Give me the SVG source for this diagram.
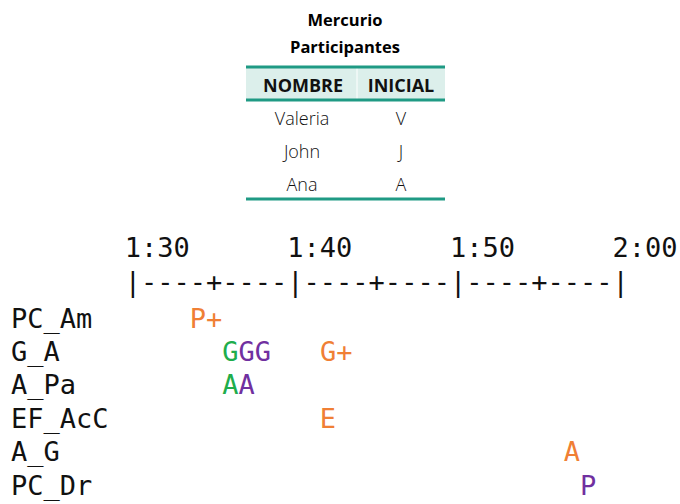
<svg xmlns="http://www.w3.org/2000/svg" width="680" height="504" viewBox="0 0 680 504">
<style>
.t{font-family:"Open Sans","Liberation Sans",sans-serif;fill:#000}
.title{font-size:16.5px;font-weight:bold;text-anchor:middle}
.hd{font-size:18px;font-weight:bold;text-anchor:middle;fill:#111}
.cell{font-size:18px;font-weight:300;text-anchor:middle;fill:#111}
.m{font-family:"DejaVu Sans Mono","Liberation Mono",monospace;font-size:27px;fill:#111;white-space:pre}
.o{fill:#f07f35}.g{fill:#20ad4b}.p{fill:#7030a0}
.rule{stroke:#1f9a84;stroke-width:3}
</style>
<g id="table">
<text class="t title" x="345" y="26">Mercurio</text>
<text class="t title" x="345" y="53">Participantes</text>
<rect x="246" y="67" width="199" height="33" fill="#dcefeb"/>
<line x1="357" y1="67" x2="357" y2="100" stroke="#ffffff" stroke-width="1"/>
<line class="rule" x1="246" y1="67" x2="445" y2="67"/>
<line class="rule" x1="246" y1="100" x2="445" y2="100"/>
<text class="t hd" x="303" y="92">NOMBRE</text>
<text class="t hd" x="401" y="92">INICIAL</text>
<text class="t cell" x="302" y="125">Valeria</text>
<text class="t cell" x="401" y="125">V</text>
<text class="t cell" x="302" y="158">John</text>
<text class="t cell" x="401" y="158">J</text>
<text class="t cell" x="302" y="191">Ana</text>
<text class="t cell" x="401" y="191">A</text>
<line class="rule" x1="246" y1="199" x2="445" y2="199"/>
</g>
<g id="timeline">
<text class="m" x="11" y="257" xml:space="preserve">       1:30      1:40      1:50      2:00</text>
<text class="m" x="11" y="291" xml:space="preserve">       |----+----|----+----|----+----|</text>
<text class="m" x="11" y="328" xml:space="preserve">PC_Am      <tspan class="o">P+</tspan></text>
<text class="m" x="11" y="361" xml:space="preserve">G_A          <tspan class="g">G</tspan><tspan class="p">GG</tspan>   <tspan class="o">G+</tspan></text>
<text class="m" x="11" y="394" xml:space="preserve">A_Pa         <tspan class="g">A</tspan><tspan class="p">A</tspan></text>
<text class="m" x="11" y="428" xml:space="preserve">EF_AcC             <tspan class="o">E</tspan></text>
<text class="m" x="11" y="461" xml:space="preserve">A_G                               <tspan class="o">A</tspan></text>
<text class="m" x="11" y="495" xml:space="preserve">PC_Dr                              <tspan class="p">P</tspan></text>
</g>
</svg>
